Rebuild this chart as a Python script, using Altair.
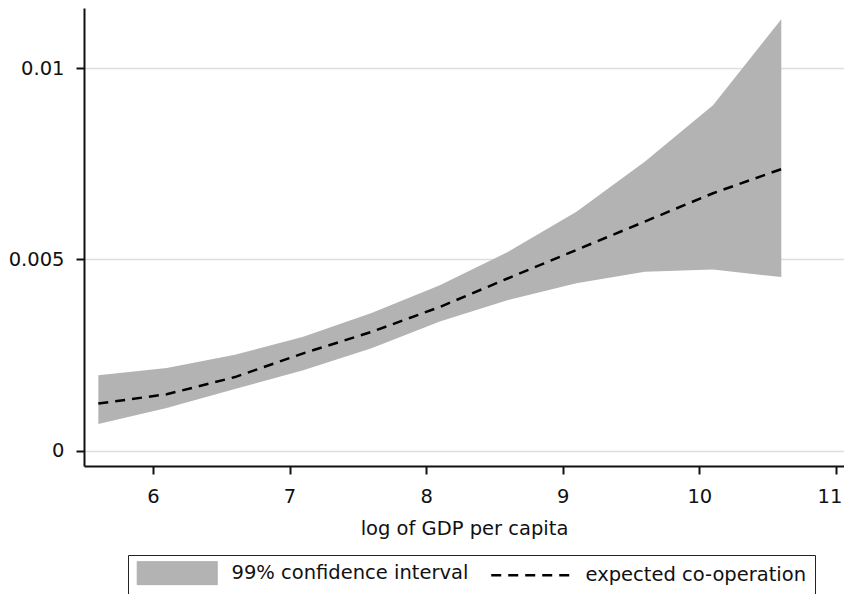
import altair as alt
import pandas as pd

# ---- data ----
gdp = [5.6, 6.1, 6.6, 7.1, 7.6, 8.1, 8.6, 9.1, 9.6, 10.1, 10.6]
ci_low = [0.000705, 0.00112, 0.00162, 0.00211, 0.00268, 0.00338, 0.00394, 0.00438, 0.00468, 0.00474, 0.00454]
ci_high = [0.00198, 0.00217, 0.00251, 0.00298, 0.00360, 0.00433, 0.00520, 0.00625, 0.00755, 0.00903, 0.01127]
expected = [0.00124, 0.00148, 0.00193, 0.00255, 0.00311, 0.00376, 0.00451, 0.00525, 0.00599, 0.00673, 0.00736]
series_names = ["99% confidence interval", "expected co-operation"]
x_ticks = [6, 7, 8, 9, 10, 11]
y_ticks = [0, 0.005, 0.01]
x_title = "log of GDP per capita"

band_df = pd.DataFrame({"gdp": gdp, "low": ci_low, "high": ci_high, "series": series_names[0]})
line_df = pd.DataFrame({"gdp": gdp, "expected": expected, "series": series_names[1]})

FONT = "DejaVu Sans"
FS = 19.5
BAND = "#b3b3b3"

x_scale = alt.Scale(domain=[5.495, 11.059], nice=False, zero=False)
y_scale = alt.Scale(domain=[-0.000392, 0.011567], nice=False, zero=False)

x_axis = alt.Axis(values=x_ticks, format="d", grid=False, tickSize=8, labelPadding=13,
                  titlePadding=14, labelFlush=10, labelFlushOffset=6)
y_axis = alt.Axis(values=y_ticks, format="~g", grid=True, tickSize=8, labelPadding=12)

# legend swatches: 80px wide, 23px tall rectangle / 80px dashed line
shape_expr = ("datum.value === 'expected co-operation' ? 'M-3.48,0H3.48' "
              ": 'M-3.48,-1H3.48V1H-3.48Z'")
stroke_expr = "datum.value === 'expected co-operation' ? 'black' : '#aaaaaa'"
width_expr = "datum.value === 'expected co-operation' ? 2.5 : 1"

legend = alt.Legend(
    title=None, orient="none", legendX=44, legendY=547, direction="horizontal", columns=2,
    symbolType=alt.ExprRef(expr=shape_expr), symbolSize=529, symbolOffset=31.5,
    symbolStrokeColor=alt.ExprRef(expr=stroke_expr), symbolStrokeWidth=alt.ExprRef(expr=width_expr),
    labelFont=FONT, labelFontSize=FS, labelColor="#111111", labelLimit=400,
    labelOffset=44.5, columnPadding=17, padding=8, strokeColor="#222222", cornerRadius=0,
)

band = alt.Chart(band_df).mark_area(opacity=1, strokeWidth=0).encode(
    x=alt.X("gdp:Q", scale=x_scale, axis=x_axis, title=x_title),
    y=alt.Y("low:Q", scale=y_scale, axis=y_axis, title=None),
    y2="high:Q",
    fill=alt.Fill("series:N", scale=alt.Scale(domain=series_names, range=[BAND, "#000000"]), legend=legend),
)

line = alt.Chart(line_df).mark_line(color="black", strokeWidth=2.5).encode(
    x=alt.X("gdp:Q", scale=x_scale),
    y=alt.Y("expected:Q", scale=y_scale),
    strokeDash=alt.StrokeDash("series:N", scale=alt.Scale(domain=series_names, range=[[1, 0], [10, 7]]),
                              legend=legend),
)

chart = alt.layer(band, line).properties(
    width=760, height=458, padding=0, background="white"
).configure_view(stroke=None).configure_axis(
    labelFont=FONT, labelFontSize=FS, labelColor="#111111",
    titleFont=FONT, titleFontSize=FS, titleFontWeight="normal", titleColor="#111111",
    domainColor="#111111", domainWidth=2, tickColor="#111111", tickWidth=2,
    gridColor="#dedede", gridWidth=1.5,
)

chart.save("out.html", embed_options={"renderer": "svg", "actions": False})
